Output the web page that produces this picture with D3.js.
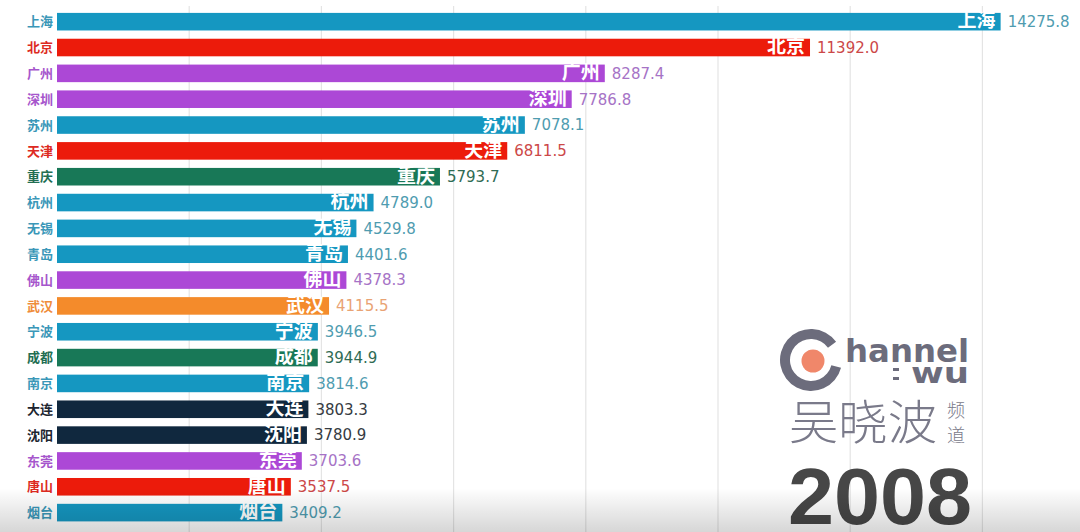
<!DOCTYPE html>
<html><head><meta charset="utf-8">
<script src="https://cdn.jsdelivr.net/npm/d3@7"></script>
<style>
html,body{margin:0;padding:0;background:#fff;}
svg{display:block;}
</style></head>
<body>
<svg id="chart" width="1080" height="532"></svg>
<script>
const cities = ["上海","北京","广州","深圳","苏州","天津","重庆","杭州","无锡","青岛","佛山","武汉","宁波","成都","南京","大连","沈阳","东莞","唐山","烟台"];
const values = [14275.8,11392.0,8287.4,7786.8,7078.1,6811.5,5793.7,4789.0,4529.8,4401.6,4378.3,4115.5,3946.5,3944.9,3814.6,3803.3,3780.9,3703.6,3537.5,3409.2];
const groups = ["blue","red","purple","purple","blue","red","green","blue","blue","blue","purple","orange","blue","green","blue","navy","navy","purple","red","blue"];
const ticks = [2000,4000,6000,8000,10000,12000,14000];
const year = "2008";

const barColor = {blue:"#1597c1",red:"#ec1b0b",purple:"#ac48d6",green:"#187857",orange:"#f48b2b",navy:"#10283e"};
const labelColor = {blue:"#3a97b8",red:"#dd2a22",purple:"#a656cc",green:"#226e52",orange:"#ef8c3a",navy:"#1d2530"};
const valueColor = {blue:"#4f9cb0",red:"#cc4848",purple:"#a673c6",green:"#2f6b54",orange:"#e9a374",navy:"#363b42"};

const svg = d3.select("#chart");
const x = d3.scaleLinear().domain([0,14000]).range([57,982.4]);
const y = d3.scaleBand().domain(cities).range([12.9,521.4]).paddingInner(0.32).paddingOuter(0);

// gridlines
svg.append("g").selectAll("line").data(ticks).join("line")
  .attr("x1",d=>x(d)).attr("x2",d=>x(d))
  .attr("y1",6).attr("y2",532)
  .attr("stroke","#e4e4e4").attr("stroke-width",1.2);

// bars
svg.append("g").selectAll("rect").data(cities).join("rect")
  .attr("x",x(0)).attr("y",d=>y(d))
  .attr("width",(d,i)=>x(values[i])-x(0))
  .attr("height",y.bandwidth())
  .attr("fill",(d,i)=>barColor[groups[i]]);

// left labels
svg.append("g").selectAll("text").data(cities).join("text")
  .attr("x",53).attr("y",d=>y(d)+y.bandwidth()/2)
  .attr("dy","0.36em").attr("text-anchor","end")
  .attr("font-family","'Noto Sans CJK SC'").attr("font-size",13).attr("font-weight",700)
  .attr("fill",(d,i)=>labelColor[groups[i]])
  .text(d=>d);

// names inside bars
svg.append("g").selectAll("text").data(cities).join("text")
  .attr("x",(d,i)=>x(values[i])-5).attr("y",d=>y(d)+y.bandwidth()-3)
  .attr("text-anchor","end")
  .attr("font-family","'Noto Sans CJK SC'").attr("font-size",19).attr("font-weight",700)
  .attr("fill","#ffffff")
  .text(d=>d);

// values
svg.append("g").selectAll("text").data(cities).join("text")
  .attr("x",(d,i)=>x(values[i])+7).attr("y",d=>y(d)+y.bandwidth()/2)
  .attr("dy","0.36em")
  .attr("font-family","'DejaVu Sans'").attr("font-size",15)
  .attr("fill",(d,i)=>valueColor[groups[i]])
  .text((d,i)=>values[i].toFixed(1));

// watermark logo
const logo = svg.append("g");
logo.append("path")
  .attr("d", d3.arc()({innerRadius:21,outerRadius:31,startAngle:Math.PI*0.58,endAngle:Math.PI*2.30}))
  .attr("transform","translate(811,360)")
  .attr("fill","#6c6c7c");
logo.append("circle").attr("cx",813).attr("cy",361).attr("r",11.5).attr("fill","#f0876a");
logo.append("text").attr("x",845).attr("y",362)
  .attr("font-family","'DejaVu Sans'").attr("font-weight",700).attr("font-size",32)
  .attr("textLength",124).attr("lengthAdjust","spacingAndGlyphs")
  .attr("fill","#6c6c7c").text("hannel");
logo.append("rect").attr("x",893).attr("y",368).attr("width",6).attr("height",3).attr("fill","#6c6c7c");
logo.append("rect").attr("x",893).attr("y",377).attr("width",6).attr("height",3).attr("fill","#6c6c7c");
logo.append("text").attr("x",911).attr("y",383)
  .attr("font-family","'DejaVu Sans'").attr("font-weight",700).attr("font-size",28)
  .attr("textLength",58).attr("lengthAdjust","spacingAndGlyphs")
  .attr("fill","#6c6c7c").text("wu");
logo.append("text").attr("x",789).attr("y",439)
  .attr("font-family","'Noto Sans CJK SC'").attr("font-weight",300).attr("font-size",47)
  .attr("textLength",148).attr("lengthAdjust","spacingAndGlyphs")
  .attr("fill","#7a7a8a").text("吴晓波");
logo.append("text").attr("x",956).attr("y",417).attr("text-anchor","middle")
  .attr("font-family","'Noto Sans CJK SC'").attr("font-weight",300).attr("font-size",18)
  .attr("fill","#7a7a8a").text("频");
logo.append("text").attr("x",956).attr("y",442).attr("text-anchor","middle")
  .attr("font-family","'Noto Sans CJK SC'").attr("font-weight",300).attr("font-size",18)
  .attr("fill","#7a7a8a").text("道");

svg.append("text").attr("x",788).attr("y",524)
  .attr("font-family","'Liberation Sans'").attr("font-weight",700).attr("font-size",80)
  .attr("textLength",184).attr("lengthAdjust","spacingAndGlyphs")
  .attr("fill","#474747").text(year);

// bottom shading (video overlay)
const defs = svg.append("defs");
const lg = defs.append("linearGradient").attr("id","shade").attr("x1",0).attr("x2",0).attr("y1",0).attr("y2",1);
lg.append("stop").attr("offset","0%").attr("stop-color","#000").attr("stop-opacity",0);
lg.append("stop").attr("offset","100%").attr("stop-color","#000").attr("stop-opacity",0.16);
svg.append("rect").attr("x",0).attr("y",488).attr("width",1080).attr("height",44).attr("fill","url(#shade)");
</script>
</body></html>
